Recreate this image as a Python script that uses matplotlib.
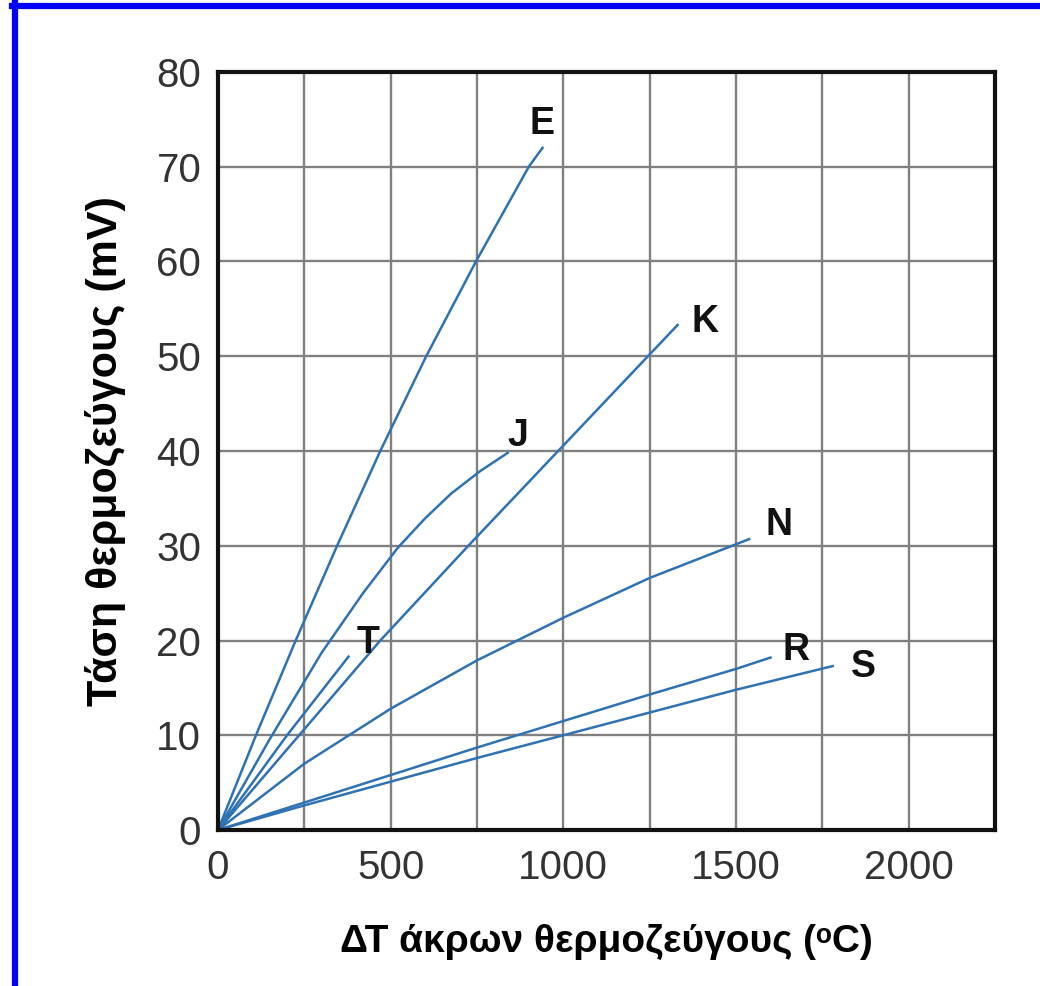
import matplotlib
matplotlib.use("Agg")
import matplotlib.pyplot as plt
from matplotlib.lines import Line2D

# values (°C, mV)
e_t = [0, 110, 225, 345, 470, 603, 747, 900, 940]
e_v = [0, 10, 20, 30, 40, 50, 60, 70, 72.0]
j_t = [0, 150, 300, 420, 521, 600, 675, 760, 839]
j_v = [0, 9.6, 18.7, 25.0, 29.8, 32.9, 35.5, 37.9, 39.8]
t_t = [0, 200, 378]
t_v = [0, 10, 18.3]
k_t = [0, 235, 470, 725, 985, 1245, 1331]
k_v = [0, 10, 20, 30, 40, 50, 53.3]
n_t = [0, 250, 500, 750, 1000, 1250, 1538]
n_v = [0, 7.0, 12.8, 17.9, 22.4, 26.6, 30.7]
r_t = [0, 250, 500, 750, 1000, 1250, 1500, 1600]
r_v = [0, 2.9, 5.8, 8.7, 11.5, 14.3, 17.0, 18.2]
s_t = [0, 250, 500, 750, 1000, 1250, 1500, 1780]
s_v = [0, 2.6, 5.1, 7.6, 10.0, 12.4, 14.8, 17.3]

names = ["E", "J", "T", "K", "N", "R", "S"]
label_x = [937, 868, 434, 1409, 1626, 1675, 1869]
label_y = [74.5, 41.6, 19.7, 53.6, 32.2, 19.0, 17.2]

x_ticks = [0, 500, 1000, 1500, 2000]
y_ticks = [0, 10, 20, 30, 40, 50, 60, 70, 80]

blue = "#2f72b4"
tick_font = ["Liberation Sans Narrow", "Liberation Sans", "DejaVu Sans"]
label_font = ["Liberation Sans", "DejaVu Sans"]

fig = plt.figure(figsize=(10.4, 9.86), dpi=100)
ax = fig.add_axes([0.2096, 0.1582, 0.9567 - 0.2096, 0.927 - 0.1582])

curves = [(e_t, e_v), (j_t, j_v), (t_t, t_v), (k_t, k_v),
          (n_t, n_v), (r_t, r_v), (s_t, s_v)]
for tt, vv in curves:
    ax.plot(tt, vv, color=blue, lw=1.8, solid_joinstyle="round")

for nm, lx, ly in zip(names, label_x, label_y):
    ax.text(lx, ly, nm, fontsize=27, fontweight="bold", ha="center", va="center",
            family=label_font, color="#111111")

ax.set_xlim(0, 2250)
ax.set_ylim(0, 80)
ax.set_xticks(x_ticks)
ax.set_xticks([250, 750, 1250, 1750], minor=True)
ax.set_yticks(y_ticks)
ax.grid(True, which="both", color="#808080", lw=1.7)
ax.set_axisbelow(True)
ax.tick_params(which="both", length=0)
ax.tick_params(axis="x", pad=14)
ax.tick_params(axis="y", pad=12)
for lab in ax.get_xticklabels() + ax.get_yticklabels():
    lab.set_family(tick_font)
    lab.set_fontsize(29)
    lab.set_color("#333333")
for sp in ax.spines.values():
    sp.set_linewidth(3)
    sp.set_color("#111111")

ax.set_xlabel("ΔΤ άκρων θερμοζεύγους (ᵒC)", fontsize=28, fontweight="bold",
              family=label_font, labelpad=26)
ax.set_ylabel("Τάση θερμοζεύγους (mV)", fontsize=31, fontweight="bold",
              family=label_font, labelpad=22)

# blue frame (top and left edge only, as in the source image)
fig.add_artist(Line2D([12 / 1040, 1], [1 - 6 / 986, 1 - 6 / 986], color="#0000ff",
                      lw=4.5, transform=fig.transFigure))
fig.add_artist(Line2D([15 / 1040, 15 / 1040], [0, 1 - 3 / 986], color="#0000ff",
                      lw=4.5, transform=fig.transFigure))

fig.savefig("out.png", dpi=100, facecolor="white")
